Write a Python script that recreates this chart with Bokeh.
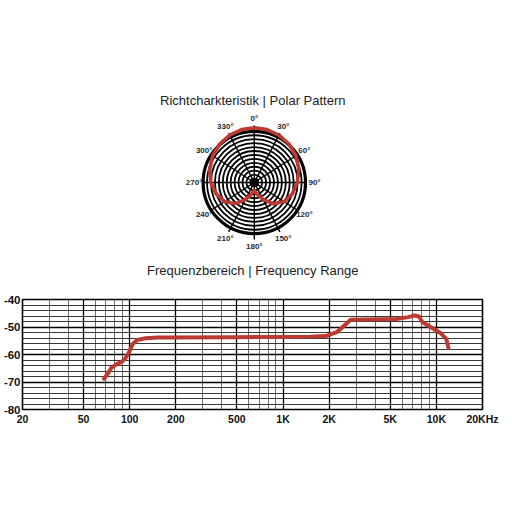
import math
from bokeh.plotting import figure
from bokeh.layouts import column
from bokeh.models import Range1d, FixedTicker
from bokeh.core.properties import value
from bokeh.embed import file_html
from bokeh.resources import INLINE

# ---------------- data ----------------
# Polar pattern (relative radius, outer ring = 1), angle in degrees clockwise from 0°
polar_angle_deg = [0, 15, 30, 45, 60, 75, 90, 105, 120, 135, 150, 165,
                   180, 195, 210, 225, 240, 255, 270, 285, 300, 315, 330, 345]
polar_radius = [0.96, 0.96, 0.96, 0.955, 0.94, 0.90, 0.84, 0.77, 0.67, 0.53, 0.34, 0.21,
                0.14, 0.21, 0.34, 0.53, 0.67, 0.77, 0.85, 0.90, 0.94, 0.955, 0.96, 0.96]
polar_label_angles = [0, 30, 60, 90, 120, 150, 180, 210, 240, 270, 300, 330]
polar_labels = ["0°", "30°", "60°", "90°", "120°", "150°", "180°", "210°", "240°", "270°", "300°", "330°"]
ring_count = 13

# Frequency response
freq_hz = [68, 72, 76, 83, 88, 93, 99, 105, 112, 127, 153, 200, 500, 1000, 1500,
           1900, 2240, 2440, 2760, 5470, 6550, 7200, 7700, 8100, 9200, 10700, 11600, 12000]
level_db = [-68.8, -67.0, -64.8, -63.4, -62.8, -61.6, -59.2, -56.1, -54.7, -54.1, -53.8, -53.8,
            -53.7, -53.6, -53.5, -53.3, -51.9, -50.1, -47.4, -47.1, -46.4, -45.8, -46.2,
            -48.2, -50.1, -52.3, -54.3, -57.6]
x_tick_values = [20, 50, 100, 200, 500, 1000, 2000, 5000, 10000, 20000]
x_tick_labels = ["20", "50", "100", "200", "500", "1K", "2K", "5K", "10K", "20KHz"]
x_minor_values = [30, 40, 60, 70, 80, 90, 300, 400, 600, 700, 800, 900,
                  3000, 4000, 6000, 7000, 8000, 9000]
y_tick_values = [-80, -70, -60, -50, -40]
y_tick_labels = ["-80", "-70", "-60", "-50", "-40"]
y_minor_values = [-78, -76, -74, -72, -68, -66, -64, -62, -58, -56, -54, -52, -48, -46, -44, -42]

title_polar = "Richtcharkteristik | Polar Pattern"
title_freq = "Frequenzbereich | Frequency Range"

RED = "#bd3a33"
TITLE_FONT = "Liberation Sans"
TICK_FONT = "Liberation Sans"

# ---------------- polar figure (also carries both headings) ----------------
S = 57.0          # pixels per unit radius
H1 = 285          # height of the upper panel
CX, CY = 258, 182  # pixel position of the polar centre
p1 = figure(width=512, height=H1, output_backend="svg", toolbar_location=None,
            x_range=Range1d(-CX / S, (512 - CX) / S),
            y_range=Range1d(-(H1 - CY) / S, CY / S),
            min_border=0)
p1.axis.visible = False
p1.grid.visible = False
p1.outline_line_color = None
p1.background_fill_color = "white"

rings = [k / ring_count for k in range(1, ring_count + 1)]
p1.circle(x=[0] * len(rings), y=[0] * len(rings), radius=rings,
          fill_color=None, line_color="black", line_width=1.8)
p1.circle(x=[0], y=[0], radius=[1.0], fill_color=None, line_color="black", line_width=3.2)
spokes = list(range(0, 360, 30))
p1.segment(x0=[0] * len(spokes), y0=[0] * len(spokes),
           x1=[math.sin(math.radians(a)) for a in spokes],
           y1=[math.cos(math.radians(a)) for a in spokes],
           line_color="black", line_width=1.4)
p1.circle(x=[0], y=[0], radius=[0.08], fill_color="black", line_color="black")

px = [r * math.sin(math.radians(a)) for a, r in zip(polar_angle_deg, polar_radius)]
py = [r * math.cos(math.radians(a)) for a, r in zip(polar_angle_deg, polar_radius)]
px.append(px[0]); py.append(py[0])
p1.line(px, py, line_color=RED, line_width=3.6, line_join="round")

lr = 1.13
p1.text(x=[lr * math.sin(math.radians(a)) * (1.04 if a in (90, 270) else 1.0) for a in polar_label_angles],
        y=[lr * math.cos(math.radians(a)) for a in polar_label_angles],
        text=polar_labels, text_align="center", text_baseline="middle",
        text_font=value(TICK_FONT), text_font_size="8px", text_font_style="bold",
        text_color="#2a2a2a")

p1.text(x=[-0.03, -0.03], y=[(CY - 100) / S, (CY - 270) / S], text=[title_polar, title_freq],
        text_align="center", text_baseline="middle", text_font=value(TITLE_FONT),
        text_font_size="13px", text_color="#222222")

# ---------------- frequency figure ----------------
p2 = figure(width=512, height=512 - H1, output_backend="svg", toolbar_location=None,
            x_axis_type="log", x_range=Range1d(20, 20000), y_range=Range1d(-80, -40),
            min_border_left=22, min_border_right=30, min_border_top=299 - H1,
            min_border_bottom=103)

xt = FixedTicker(ticks=x_tick_values, minor_ticks=x_minor_values)
yt = FixedTicker(ticks=y_tick_values, minor_ticks=y_minor_values)
p2.xaxis.ticker = xt
p2.yaxis.ticker = yt
p2.xgrid.ticker = xt
p2.ygrid.ticker = yt
p2.xaxis.major_label_overrides = dict(zip(x_tick_values, x_tick_labels))
p2.yaxis.major_label_overrides = dict(zip(y_tick_values, y_tick_labels))
for ax in (p2.xaxis, p2.yaxis):
    ax.axis_line_color = None
    ax.major_tick_out = 0
    ax.major_tick_in = 0
    ax.minor_tick_out = 0
    ax.minor_tick_in = 0
    ax.major_label_text_font = TICK_FONT
    ax.major_label_text_font_style = "bold"
    ax.major_label_text_color = "#111111"
p2.xaxis.major_label_text_font_size = "10.5px"
p2.yaxis.major_label_text_font_size = "11.5px"
p2.xaxis.major_label_standoff = 3
p2.yaxis.major_label_standoff = 2

p2.xgrid.grid_line_color = "black"
p2.xgrid.grid_line_width = 1.3
p2.xgrid.minor_grid_line_color = "#6a6a6a"
p2.xgrid.minor_grid_line_width = 1
p2.ygrid.grid_line_color = "black"
p2.ygrid.grid_line_width = 1.3
p2.ygrid.minor_grid_line_color = "#222222"
p2.ygrid.minor_grid_line_width = 0.9
p2.outline_line_color = "black"
p2.outline_line_width = 1.6

p2.line(freq_hz, level_db, line_color=RED, line_width=4, line_join="round", line_cap="round")

layout = column(p1, p2, spacing=0)
open("out.html", "w").write(file_html(layout, INLINE))
